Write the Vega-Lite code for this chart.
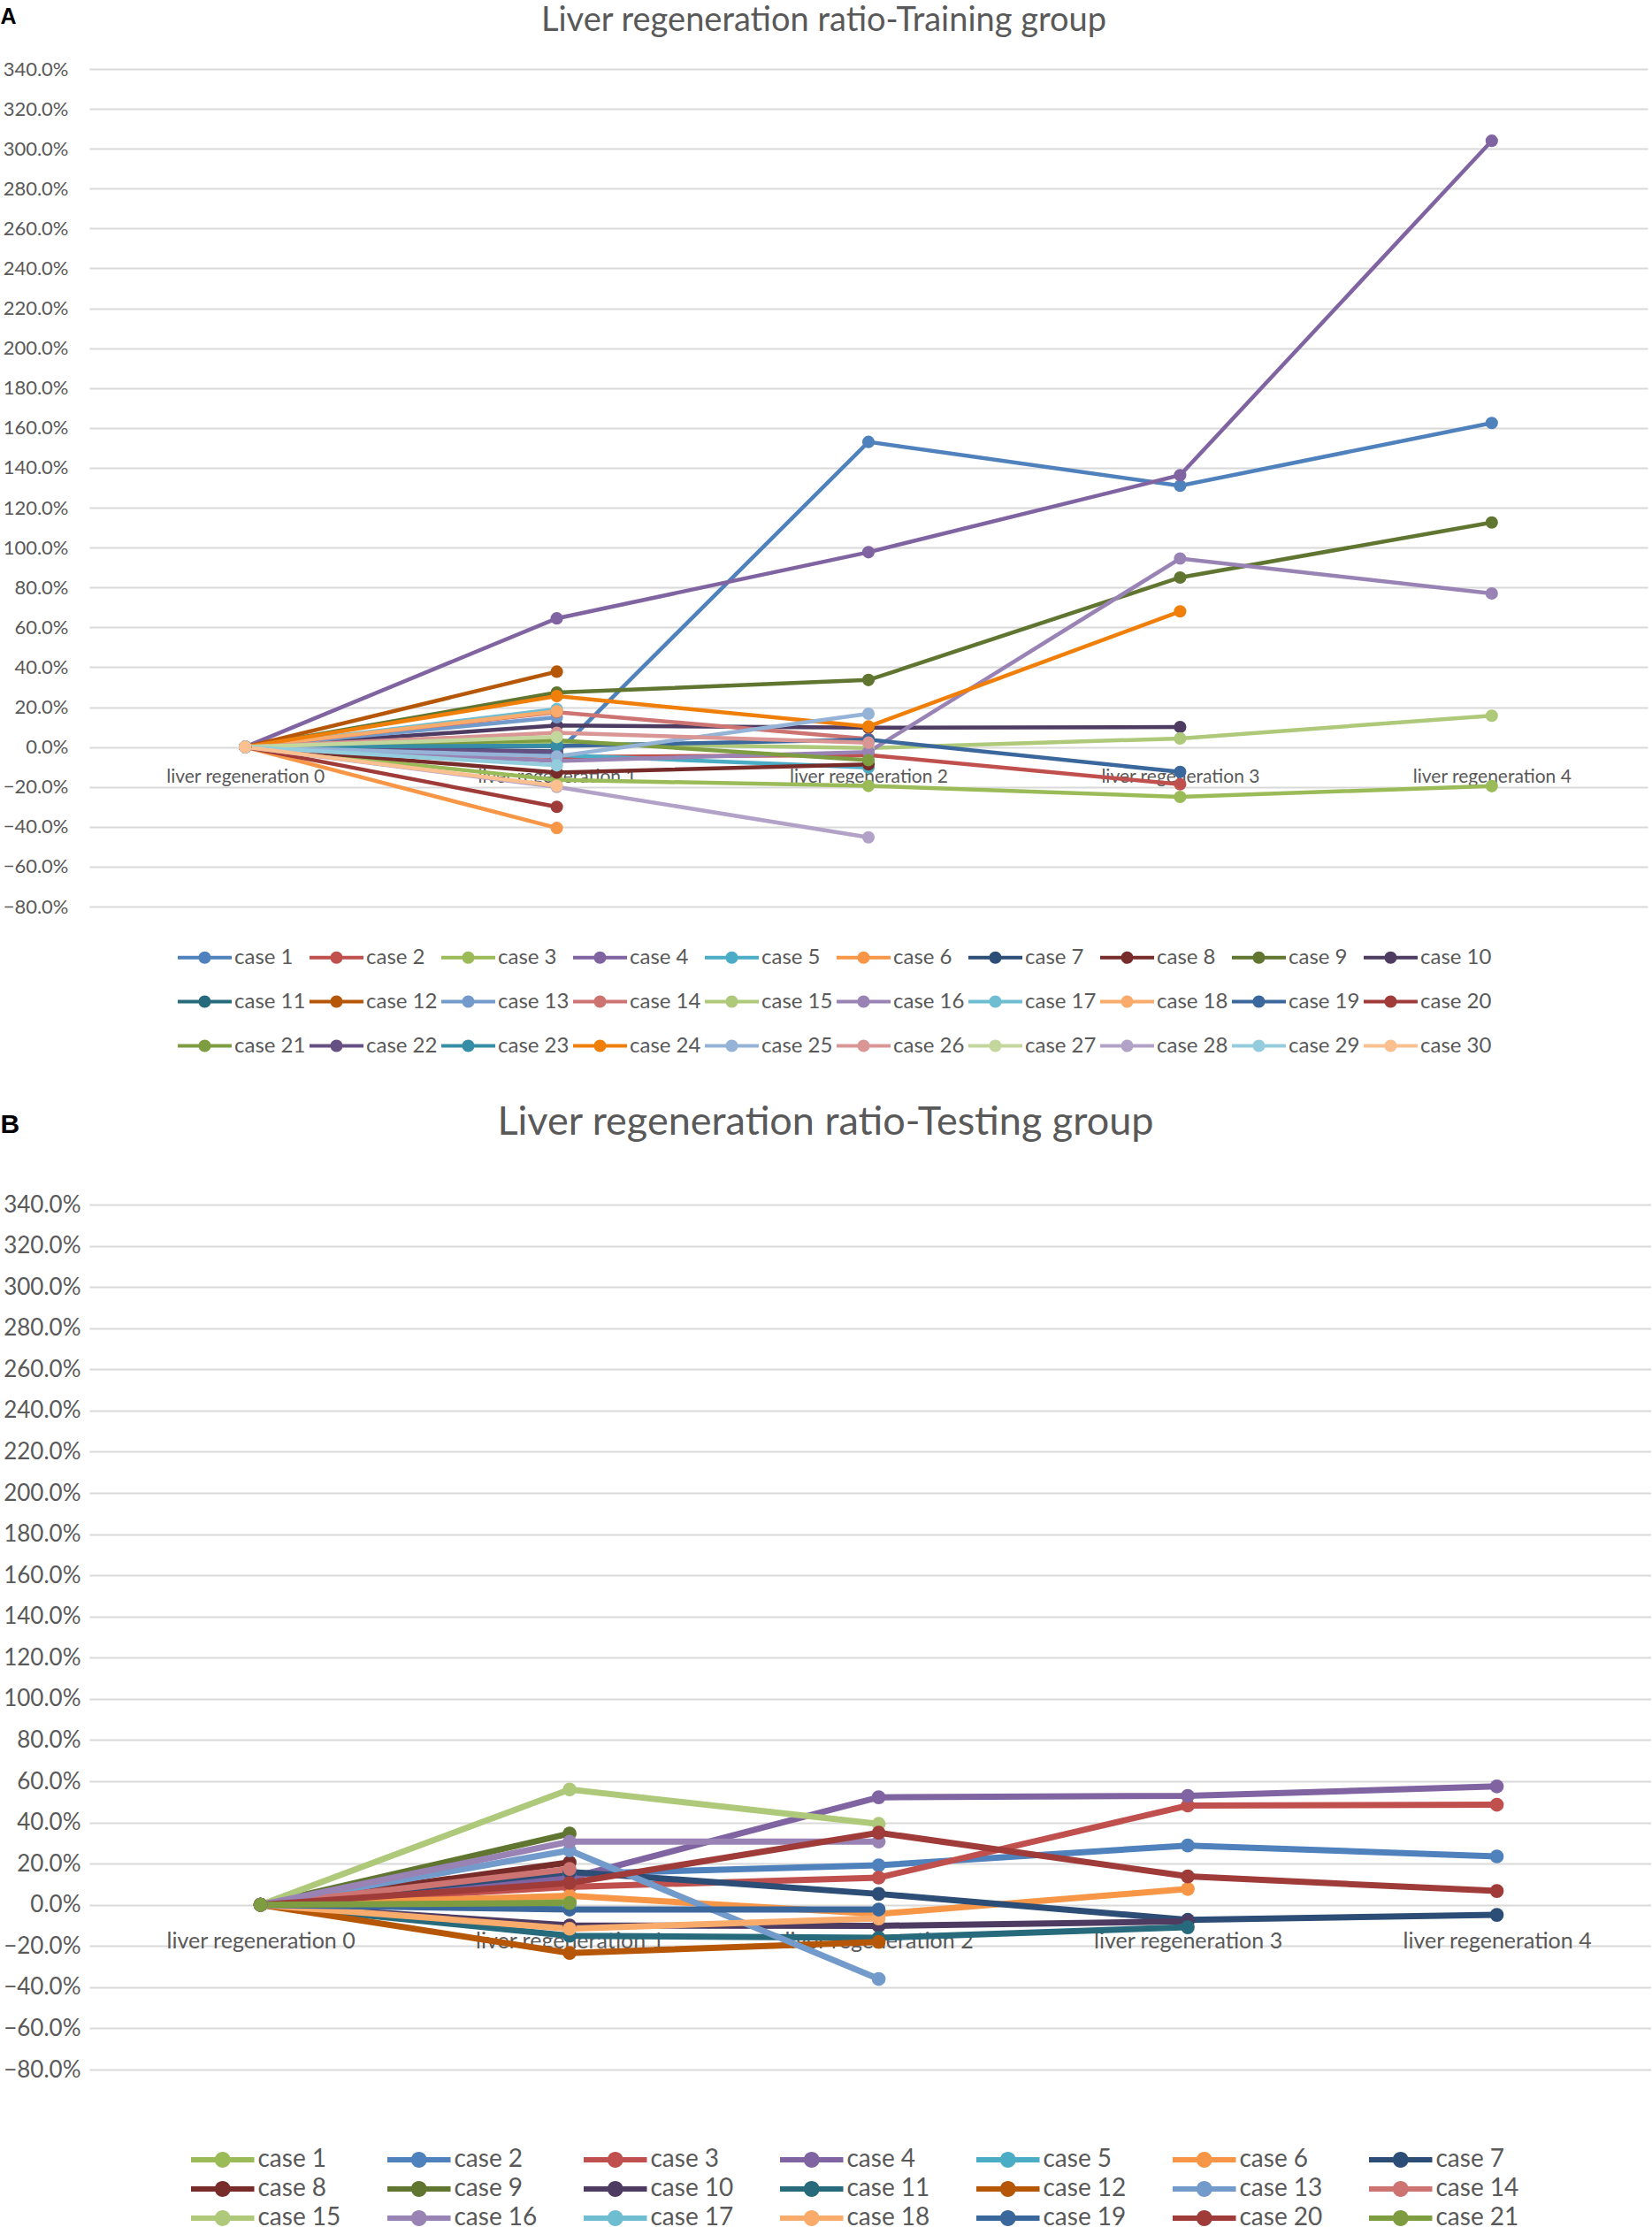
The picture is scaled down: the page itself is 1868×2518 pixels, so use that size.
{
"$schema":"https://vega.github.io/schema/vega-lite/v6.json",
"padding":{"top":5,"left":0,"right":0,"bottom":0},
"background":"white",
"columns":1,
"bounds":"full",
"spacing":52,
"config":{"view":{"stroke":null},"font":"Lato"},
"datasets":{
"train":[
{"c":"case 1","s":"liver regeneration 0","v":0},{"c":"case 1","s":"liver regeneration 1","v":-0.03},{"c":"case 1","s":"liver regeneration 2","v":1.53},{"c":"case 1","s":"liver regeneration 3","v":1.31},{"c":"case 1","s":"liver regeneration 4","v":1.625},
{"c":"case 2","s":"liver regeneration 0","v":0},{"c":"case 2","s":"liver regeneration 1","v":-0.05},{"c":"case 2","s":"liver regeneration 2","v":-0.04},{"c":"case 2","s":"liver regeneration 3","v":-0.187},
{"c":"case 3","s":"liver regeneration 0","v":0},{"c":"case 3","s":"liver regeneration 1","v":-0.165},{"c":"case 3","s":"liver regeneration 2","v":-0.195},{"c":"case 3","s":"liver regeneration 3","v":-0.25},{"c":"case 3","s":"liver regeneration 4","v":-0.196},
{"c":"case 4","s":"liver regeneration 0","v":0},{"c":"case 4","s":"liver regeneration 1","v":0.645},{"c":"case 4","s":"liver regeneration 2","v":0.977},{"c":"case 4","s":"liver regeneration 3","v":1.363},{"c":"case 4","s":"liver regeneration 4","v":3.04},
{"c":"case 5","s":"liver regeneration 0","v":0},{"c":"case 5","s":"liver regeneration 1","v":-0.04},{"c":"case 5","s":"liver regeneration 2","v":-0.103},
{"c":"case 6","s":"liver regeneration 0","v":0},{"c":"case 6","s":"liver regeneration 1","v":-0.406},
{"c":"case 7","s":"liver regeneration 0","v":0},{"c":"case 7","s":"liver regeneration 1","v":-0.022},
{"c":"case 8","s":"liver regeneration 0","v":0},{"c":"case 8","s":"liver regeneration 1","v":-0.128},{"c":"case 8","s":"liver regeneration 2","v":-0.087},
{"c":"case 9","s":"liver regeneration 0","v":0},{"c":"case 9","s":"liver regeneration 1","v":0.273},{"c":"case 9","s":"liver regeneration 2","v":0.336},{"c":"case 9","s":"liver regeneration 3","v":0.85},{"c":"case 9","s":"liver regeneration 4","v":1.126},
{"c":"case 10","s":"liver regeneration 0","v":0},{"c":"case 10","s":"liver regeneration 1","v":0.108},{"c":"case 10","s":"liver regeneration 2","v":0.097},{"c":"case 10","s":"liver regeneration 3","v":0.1},
{"c":"case 11","s":"liver regeneration 0","v":0},{"c":"case 11","s":"liver regeneration 1","v":0.01},
{"c":"case 12","s":"liver regeneration 0","v":0},{"c":"case 12","s":"liver regeneration 1","v":0.378},
{"c":"case 13","s":"liver regeneration 0","v":0},{"c":"case 13","s":"liver regeneration 1","v":0.149},
{"c":"case 14","s":"liver regeneration 0","v":0},{"c":"case 14","s":"liver regeneration 1","v":0.175},{"c":"case 14","s":"liver regeneration 2","v":0.04},
{"c":"case 15","s":"liver regeneration 0","v":0},{"c":"case 15","s":"liver regeneration 1","v":0.02},{"c":"case 15","s":"liver regeneration 2","v":-0.005},{"c":"case 15","s":"liver regeneration 3","v":0.043},{"c":"case 15","s":"liver regeneration 4","v":0.157},
{"c":"case 16","s":"liver regeneration 0","v":0},{"c":"case 16","s":"liver regeneration 1","v":-0.07},{"c":"case 16","s":"liver regeneration 2","v":-0.025},{"c":"case 16","s":"liver regeneration 3","v":0.945},{"c":"case 16","s":"liver regeneration 4","v":0.77},
{"c":"case 17","s":"liver regeneration 0","v":0},{"c":"case 17","s":"liver regeneration 1","v":0.19},
{"c":"case 18","s":"liver regeneration 0","v":0},{"c":"case 18","s":"liver regeneration 1","v":0.179},
{"c":"case 19","s":"liver regeneration 0","v":0},{"c":"case 19","s":"liver regeneration 1","v":0.005},{"c":"case 19","s":"liver regeneration 2","v":0.037},{"c":"case 19","s":"liver regeneration 3","v":-0.125},
{"c":"case 20","s":"liver regeneration 0","v":0},{"c":"case 20","s":"liver regeneration 1","v":-0.3},
{"c":"case 21","s":"liver regeneration 0","v":0},{"c":"case 21","s":"liver regeneration 1","v":0.034},{"c":"case 21","s":"liver regeneration 2","v":-0.066},
{"c":"case 22","s":"liver regeneration 0","v":0},{"c":"case 22","s":"liver regeneration 1","v":-0.025},
{"c":"case 23","s":"liver regeneration 0","v":0},{"c":"case 23","s":"liver regeneration 1","v":0.007},
{"c":"case 24","s":"liver regeneration 0","v":0},{"c":"case 24","s":"liver regeneration 1","v":0.255},{"c":"case 24","s":"liver regeneration 2","v":0.103},{"c":"case 24","s":"liver regeneration 3","v":0.68},
{"c":"case 25","s":"liver regeneration 0","v":0},{"c":"case 25","s":"liver regeneration 1","v":-0.047},{"c":"case 25","s":"liver regeneration 2","v":0.167},
{"c":"case 26","s":"liver regeneration 0","v":0},{"c":"case 26","s":"liver regeneration 1","v":0.071},{"c":"case 26","s":"liver regeneration 2","v":0.022},
{"c":"case 27","s":"liver regeneration 0","v":0},{"c":"case 27","s":"liver regeneration 1","v":0.05},
{"c":"case 28","s":"liver regeneration 0","v":0},{"c":"case 28","s":"liver regeneration 1","v":-0.2},{"c":"case 28","s":"liver regeneration 2","v":-0.453},
{"c":"case 29","s":"liver regeneration 0","v":0},{"c":"case 29","s":"liver regeneration 1","v":-0.092},
{"c":"case 30","s":"liver regeneration 0","v":0},{"c":"case 30","s":"liver regeneration 1","v":-0.195}
],
"test":[
{"c":"case 1","s":"liver regeneration 0","v":0},{"c":"case 1","s":"liver regeneration 1","v":0.02},
{"c":"case 2","s":"liver regeneration 0","v":0},{"c":"case 2","s":"liver regeneration 1","v":0.15},{"c":"case 2","s":"liver regeneration 2","v":0.192},{"c":"case 2","s":"liver regeneration 3","v":0.288},{"c":"case 2","s":"liver regeneration 4","v":0.235},
{"c":"case 3","s":"liver regeneration 0","v":0},{"c":"case 3","s":"liver regeneration 1","v":0.087},{"c":"case 3","s":"liver regeneration 2","v":0.132},{"c":"case 3","s":"liver regeneration 3","v":0.482},{"c":"case 3","s":"liver regeneration 4","v":0.486},
{"c":"case 4","s":"liver regeneration 0","v":0},{"c":"case 4","s":"liver regeneration 1","v":0.13},{"c":"case 4","s":"liver regeneration 2","v":0.522},{"c":"case 4","s":"liver regeneration 3","v":0.529},{"c":"case 4","s":"liver regeneration 4","v":0.575},
{"c":"case 5","s":"liver regeneration 0","v":0},{"c":"case 5","s":"liver regeneration 1","v":-0.01},
{"c":"case 6","s":"liver regeneration 0","v":0},{"c":"case 6","s":"liver regeneration 1","v":0.044},{"c":"case 6","s":"liver regeneration 2","v":-0.044},{"c":"case 6","s":"liver regeneration 3","v":0.077},
{"c":"case 7","s":"liver regeneration 0","v":0},{"c":"case 7","s":"liver regeneration 1","v":0.16},{"c":"case 7","s":"liver regeneration 2","v":0.053},{"c":"case 7","s":"liver regeneration 3","v":-0.073},{"c":"case 7","s":"liver regeneration 4","v":-0.049},
{"c":"case 8","s":"liver regeneration 0","v":0},{"c":"case 8","s":"liver regeneration 1","v":0.206},
{"c":"case 9","s":"liver regeneration 0","v":0},{"c":"case 9","s":"liver regeneration 1","v":0.346},
{"c":"case 10","s":"liver regeneration 0","v":0},{"c":"case 10","s":"liver regeneration 1","v":-0.1},{"c":"case 10","s":"liver regeneration 2","v":-0.102},{"c":"case 10","s":"liver regeneration 3","v":-0.08},
{"c":"case 11","s":"liver regeneration 0","v":0},{"c":"case 11","s":"liver regeneration 1","v":-0.15},{"c":"case 11","s":"liver regeneration 2","v":-0.16},{"c":"case 11","s":"liver regeneration 3","v":-0.109},
{"c":"case 12","s":"liver regeneration 0","v":0},{"c":"case 12","s":"liver regeneration 1","v":-0.234},{"c":"case 12","s":"liver regeneration 2","v":-0.18},
{"c":"case 13","s":"liver regeneration 0","v":0},{"c":"case 13","s":"liver regeneration 1","v":0.264},{"c":"case 13","s":"liver regeneration 2","v":-0.36},
{"c":"case 14","s":"liver regeneration 0","v":0},{"c":"case 14","s":"liver regeneration 1","v":0.174},
{"c":"case 15","s":"liver regeneration 0","v":0},{"c":"case 15","s":"liver regeneration 1","v":0.56},{"c":"case 15","s":"liver regeneration 2","v":0.393},
{"c":"case 16","s":"liver regeneration 0","v":0},{"c":"case 16","s":"liver regeneration 1","v":0.307},{"c":"case 16","s":"liver regeneration 2","v":0.307},
{"c":"case 17","s":"liver regeneration 0","v":0},{"c":"case 17","s":"liver regeneration 1","v":0.0},
{"c":"case 18","s":"liver regeneration 0","v":0},{"c":"case 18","s":"liver regeneration 1","v":-0.116},{"c":"case 18","s":"liver regeneration 2","v":-0.066},
{"c":"case 19","s":"liver regeneration 0","v":0},{"c":"case 19","s":"liver regeneration 1","v":-0.023},{"c":"case 19","s":"liver regeneration 2","v":-0.023},
{"c":"case 20","s":"liver regeneration 0","v":0},{"c":"case 20","s":"liver regeneration 1","v":0.106},{"c":"case 20","s":"liver regeneration 2","v":0.35},{"c":"case 20","s":"liver regeneration 3","v":0.138},{"c":"case 20","s":"liver regeneration 4","v":0.067},
{"c":"case 21","s":"liver regeneration 0","v":0},{"c":"case 21","s":"liver regeneration 1","v":0.009}
]
},
"resolve":{"scale":{"color":"independent","x":"independent","y":"independent"},"legend":{"color":"independent"}},
"concat":[
{
"width":1762,"height":947,
"data":{"name":"train"},
"title":{"text":"Liver regeneration ratio-Training group","font":"Lato","fontSize":38,"fontWeight":"normal","color":"#595959","anchor":"middle","frame":"bounds","offset":-37},
"encoding":{
"x":{"field":"s","type":"nominal","scale":{"type":"point","padding":0.5,"domain":["liver regeneration 0","liver regeneration 1","liver regeneration 2","liver regeneration 3","liver regeneration 4"]},
"axis":{"title":null,"offset":-180,"labelPadding":22,"ticks":false,"tickSize":0,"domain":false,"grid":false,"labelFontSize":21,"labelAngle":0,"labelColor":"#595959","labelFont":"Lato","labelLimit":0}},
"y":{"field":"v","type":"quantitative","scale":{"domain":[-0.8,3.4],"nice":false,"zero":false},
"axis":{"values":[-0.8,-0.6,-0.4,-0.2,0,0.2,0.4,0.6,0.8,1,1.2,1.4,1.6,1.8,2,2.2,2.4,2.6,2.8,3,3.2,3.4],"format":".1%","grid":true,"gridColor":"#D9D9D9","gridWidth":2,"domain":false,"ticks":false,"tickSize":0,"labelPadding":24,"labelFontSize":22,"labelFont":"Lato","labelColor":"#595959",
"title":"A","titleAngle":0,"titleAlign":"left","titleBaseline":"top","titleX":-101,"titleY":-72,"titleFont":"Liberation Sans","titleFontSize":25,"titleFontWeight":"bold","titleColor":"#000000"}},
"color":{"field":"c","type":"nominal",
"scale":{"domain":["case 1","case 2","case 3","case 4","case 5","case 6","case 7","case 8","case 9","case 10","case 11","case 12","case 13","case 14","case 15","case 16","case 17","case 18","case 19","case 20","case 21","case 22","case 23","case 24","case 25","case 26","case 27","case 28","case 29","case 30"],
"range":["#4F81BD","#C0504D","#9BBB59","#8064A2","#4BACC6","#F79646","#2C4D75","#772C2A","#5F7530","#4D3B62","#276A7C","#B65708","#729ACA","#CD7371","#AFC97A","#9983B5","#6FBDD1","#F9AB6B","#3A679C","#9F3B38","#7E9C40","#664F83","#358EA6","#F07F09","#95B3D7","#D99694","#C3D69B","#B3A2C7","#93CDDD","#FAC090"]},
"legend":{"orient":"none","legendX":100,"legendY":974,"direction":"horizontal","columns":10,"title":null,"symbolType":"M-1,-0.066H1V0.066H-1Z M-0.23,0A0.23,0.23,0,1,1,0.23,0A0.23,0.23,0,1,1,-0.23,0Z","symbolSize":3721,"symbolStrokeWidth":0,"labelFontSize":24,"labelFont":"Lato","labelColor":"#595959","labelOffset":3,"columnPadding":4,"rowPadding":7,"gridAlign":"all","labelLimit":0,"padding":0}}
},
"layer":[
{"mark":{"type":"line","strokeWidth":4.5}},
{"mark":{"type":"point","filled":true,"size":200,"opacity":1,"shape":"circle"}}
]
},
{
"width":1766,"height":978,
"data":{"name":"test"},
"title":{"text":"Liver regeneration ratio-Testing group","font":"Lato","fontSize":45,"fontWeight":"normal","color":"#595959","anchor":"middle","frame":"bounds","offset":-42,"dy":-6},
"encoding":{
"x":{"field":"s","type":"nominal","scale":{"type":"point","padding":0.5265,"align":0.526,"domain":["liver regeneration 0","liver regeneration 1","liver regeneration 2","liver regeneration 3","liver regeneration 4"]},
"axis":{"title":null,"offset":-186,"labelPadding":28,"ticks":false,"tickSize":0,"domain":false,"grid":false,"labelFontSize":25,"labelAngle":0,"labelColor":"#595959","labelFont":"Lato","labelLimit":0}},
"y":{"field":"v","type":"quantitative","scale":{"domain":[-0.8,3.4],"nice":false,"zero":false},
"axis":{"values":[-0.8,-0.6,-0.4,-0.2,0,0.2,0.4,0.6,0.8,1,1.2,1.4,1.6,1.8,2,2.2,2.4,2.6,2.8,3,3.2,3.4],"format":".1%","grid":true,"gridColor":"#D9D9D9","gridWidth":2,"domain":false,"ticks":false,"tickSize":0,"labelPadding":10,"labelFontSize":26,"labelFont":"Lato","labelColor":"#595959",
"title":"B","titleAngle":0,"titleAlign":"left","titleBaseline":"top","titleX":-101,"titleY":-106,"titleFont":"Liberation Sans","titleFontSize":30,"titleFontWeight":"bold","titleColor":"#000000"}},
"color":{"field":"c","type":"nominal",
"scale":{"domain":["case 1","case 2","case 3","case 4","case 5","case 6","case 7","case 8","case 9","case 10","case 11","case 12","case 13","case 14","case 15","case 16","case 17","case 18","case 19","case 20","case 21"],
"range":["#9BBB59","#4F81BD","#C0504D","#8064A2","#4BACC6","#F79646","#2C4D75","#772C2A","#5F7530","#4D3B62","#276A7C","#B65708","#729ACA","#CD7371","#AFC97A","#9983B5","#6FBDD1","#F9AB6B","#3A679C","#9F3B38","#7E9C40"]},
"legend":{"orient":"none","legendX":115,"legendY":1061,"direction":"horizontal","columns":7,"title":null,"symbolType":"M-1.882,-0.158H1.882V0.158H-1.882Z M-0.47,0A0.47,0.47,0,1,1,0.47,0A0.47,0.47,0,1,1,-0.47,0Z","symbolSize":1444,"symbolOffset":16.75,"symbolStrokeWidth":0,"labelFontSize":28,"labelFont":"Lato","labelColor":"#595959","labelOffset":20.75,"columnPadding":51,"rowPadding":0,"gridAlign":"all","labelLimit":0,"padding":0}}
},
"layer":[
{"mark":{"type":"line","strokeWidth":7}},
{"mark":{"type":"point","filled":true,"size":246,"opacity":1,"shape":"circle"}}
]
}
]
}
